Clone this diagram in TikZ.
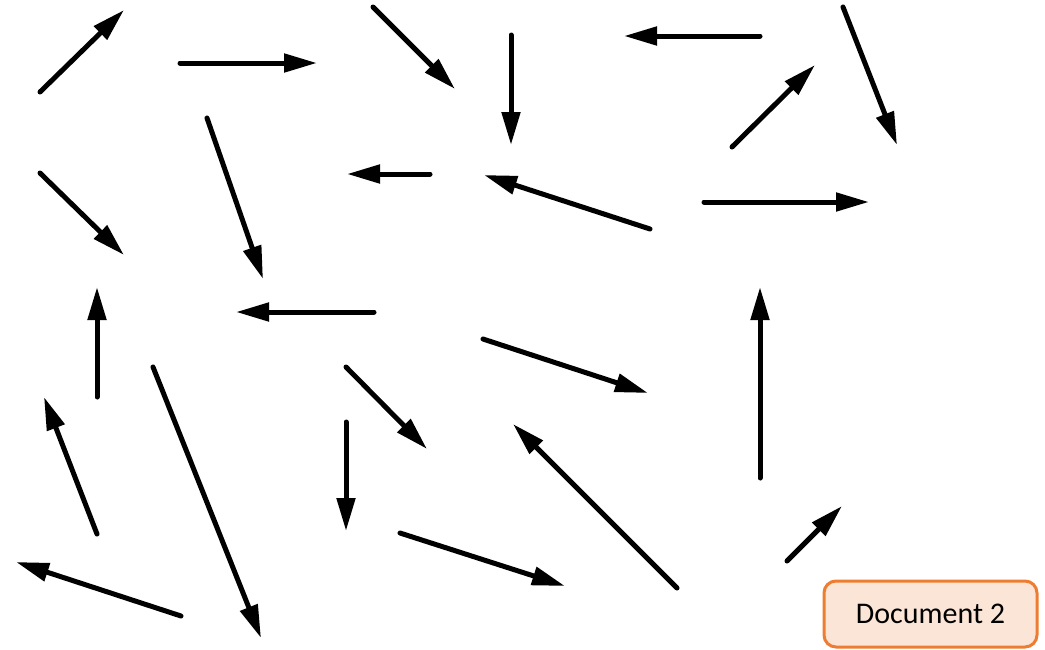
\documentclass[tikz,border=0pt]{standalone}
\usepackage{fontspec}
\setmainfont{Carlito}
\usetikzlibrary{arrows.meta,positioning}
\definecolor{docorange}{RGB}{237,125,49}
\definecolor{docfill}{RGB}{251,229,214}
\begin{document}
\begin{tikzpicture}[
  x=1pt,y=-1pt,
  arr/.style={-{Triangle[length=33pt,width=18pt]},line width=5pt,line cap=round},
  docbox/.style={draw=docorange,fill=docfill,line width=3pt,rounded corners=12pt,
                 minimum width=213pt,minimum height=66pt,
                 font=\fontsize{30}{35}\selectfont,align=center}
]
\useasboundingbox (0,0) rectangle (1045,649);
% scattered arrows: start x/y, tip x/y
\foreach \i/\sx/\sy/\ex/\ey in {
  1/40/92/124/10, 2/180/63/317/63, 3/373/7/455/89, 4/511/35/511/145,
  5/760/36/624/36, 6/843/7/897/145, 7/732/147/815/65, 8/430/174/347/174,
  9/650/229/484/175, 10/704/202/869/202, 11/40/173/124/255, 12/207/118/263/279,
  13/374/312/236/312, 14/97/397/97/287, 15/760/478/760/287, 16/483/339/648/393,
  17/346/367/427/449, 18/97/534/44/397, 19/153/367/261/638, 20/346/422/346/531,
  21/677/588/513/424, 22/400/533/565/586, 23/787/561/842/506, 24/181/616/16/562}
{
  \coordinate (s\i) at (\sx,\sy);
  \coordinate (e\i) at (\ex,\ey);
  \draw[arr] (s\i) -- (e\i);
}
\node[docbox] (doc) at (930.5,614) {Document 2};
\end{tikzpicture}
\end{document}
